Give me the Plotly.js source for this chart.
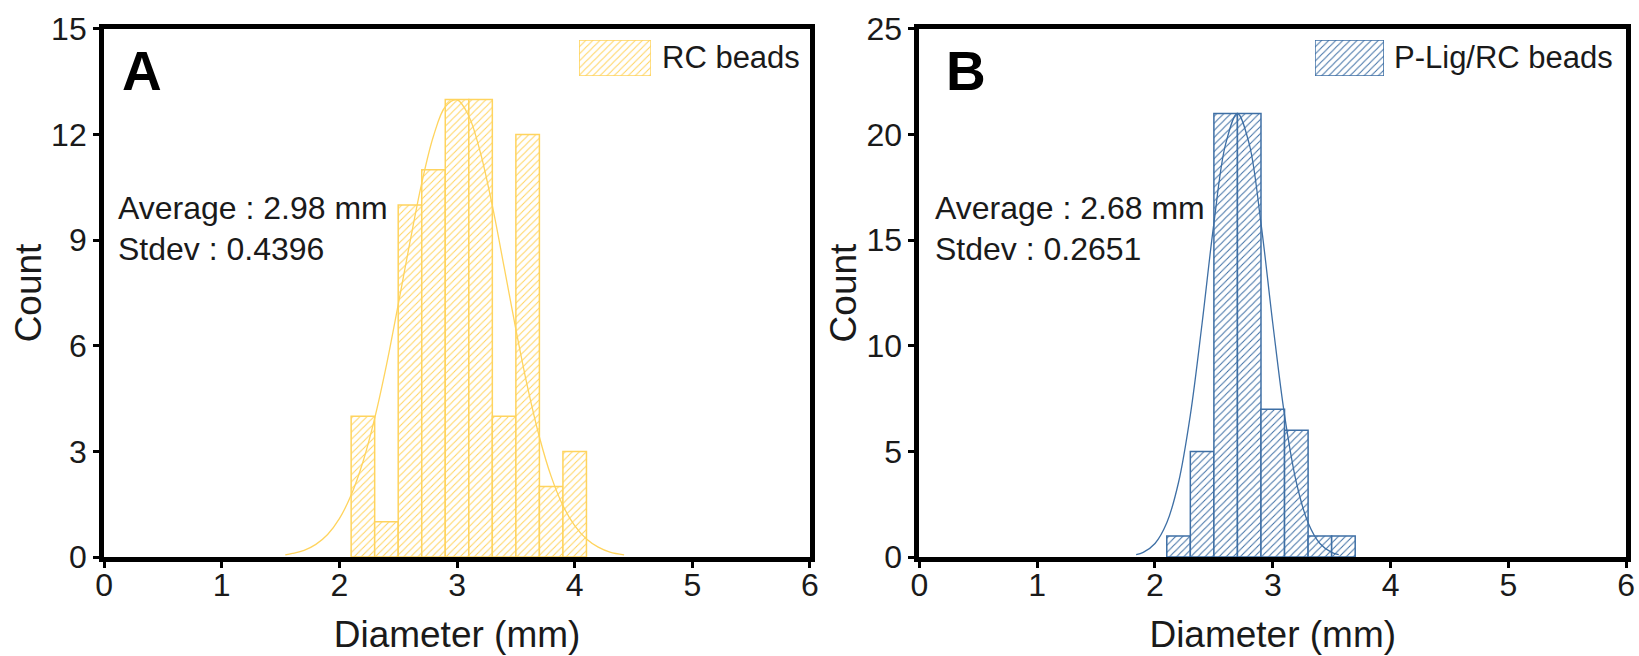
<!DOCTYPE html>
<html>
<head>
<meta charset="utf-8">
<script src="https://cdn.plot.ly/plotly-3.0.1.min.js"></script>
<style>html,body{margin:0;padding:0;background:#fff;}#chart{width:1639px;height:656px;}</style>
</head>
<body>
<div id="chart"></div>
<script>
// ---- data ----
const binCentersA = [2.2, 2.4, 2.6, 2.8, 3.0, 3.2, 3.4, 3.6, 3.8, 4.0];
const countsA     = [4, 1, 10, 11, 13, 13, 4, 12, 2, 3];
const binCentersB = [2.2, 2.4, 2.6, 2.8, 3.0, 3.2, 3.4, 3.6];
const countsB     = [1, 5, 21, 21, 7, 6, 1, 1];
const binWidth = 0.2;

// fitted normal curves
const fitXA = [1.54,1.6,1.7,1.8,1.9,2.0,2.1,2.2,2.3,2.4,2.5,2.6,2.7,2.8,2.9,3.0,3.1,3.2,3.3,3.4,3.5,3.6,3.7,3.8,3.9,4.0,4.1,4.2,4.3,4.42];
const fitYA = [0.06,0.10,0.19,0.36,0.64,1.09,1.76,2.70,3.94,5.45,7.17,8.95,10.62,11.96,12.79,12.99,12.53,11.47,9.98,8.24,6.47,4.82,3.41,2.29,1.46,0.89,0.51,0.28,0.14,0.06];
const fitXB = [1.84,1.9,2.0,2.1,2.2,2.3,2.4,2.5,2.6,2.7,2.8,2.9,3.0,3.1,3.2,3.3,3.4,3.5,3.56];
const fitYB = [0.11,0.22,0.64,1.62,3.54,6.72,11.07,15.80,19.56,21.0,19.56,15.80,11.07,6.72,3.54,1.62,0.64,0.22,0.11];

const seriesNames = ['RC beads', 'P-Lig/RC beads'];
const statsA = ['Average : 2.98 mm', 'Stdev : 0.4396'];
const statsB = ['Average : 2.68 mm', 'Stdev : 0.2651'];
const panelLabels = ['A', 'B'];
const swatchValue = [1];

// ---- styles ----
const yellow = '#FFD45E';
const blue = '#3E6FA5';
const txt = '#1a1a1a';
const FONT = 'Liberation Sans, Arial, sans-serif';

function histTrace(x, y, color, xa, ya) {
  return {
    type: 'bar', x: x, y: y, width: binWidth, xaxis: xa, yaxis: ya,
    marker: {
      color: color,
      line: {color: color, width: 1.5},
      pattern: {shape: '/', fgcolor: color, bgcolor: '#ffffff', size: 5, solidity: 0.2, fillmode: 'replace'}
    },
    showlegend: false, hoverinfo: 'x+y'
  };
}
function fitTrace(x, y, color, xa, ya) {
  return {type: 'scatter', mode: 'lines', x: x, y: y, xaxis: xa, yaxis: ya,
    line: {color: color, width: 1.3, shape: 'spline'}, showlegend: false};
}
function swatchTrace(color, xa, ya) {
  return {
    type: 'bar', x: [0], y: swatchValue, width: 1, xaxis: xa, yaxis: ya,
    marker: {color: color, line: {color: color, width: 1.5},
      pattern: {shape: '/', fgcolor: color, bgcolor: '#ffffff', size: 5, solidity: 0.2, fillmode: 'replace'}},
    showlegend: false, hoverinfo: 'skip'
  };
}

const data = [
  histTrace(binCentersA, countsA, yellow, 'x', 'y'),
  fitTrace(fitXA, fitYA, yellow, 'x', 'y'),
  histTrace(binCentersB, countsB, blue, 'x2', 'y2'),
  fitTrace(fitXB, fitYB, blue, 'x2', 'y2'),
  swatchTrace(yellow, 'x3', 'y3'),
  swatchTrace(blue, 'x4', 'y4')
];

const yDom = [0.1509, 0.9558];
function xAxis(domain, anchor) {
  return {
    domain: domain, anchor: anchor, range: [0, 6], dtick: 1, tick0: 0,
    showline: true, linecolor: '#000', linewidth: 5, mirror: true,
    ticks: 'outside', ticklen: 6, tickwidth: 3, tickcolor: '#000',
    ticklabelstandoff: -10,
    showgrid: false, zeroline: false,
    tickfont: {family: FONT, size: 32, color: txt},
    title: {text: 'Diameter (mm)', font: {family: FONT, size: 37, color: txt}, standoff: 20},
    fixedrange: true
  };
}
function yAxis(range, dtick, anchor) {
  return {
    domain: yDom, anchor: anchor, range: range, dtick: dtick, tick0: 0,
    showline: true, linecolor: '#000', linewidth: 5, mirror: true,
    ticks: 'outside', ticklen: 6, tickwidth: 3, tickcolor: '#000',
    showgrid: false, zeroline: false,
    tickfont: {family: FONT, size: 32, color: txt},
    title: {text: 'Count', font: {family: FONT, size: 37, color: txt}, standoff: 0},
    fixedrange: true
  };
}
function hidden(domain, range, anchor) {
  return {domain: domain, range: range, visible: false, anchor: anchor, fixedrange: true};
}

const swY = [0.8841, 0.9390];
const layout = {
  width: 1639, height: 656,
  margin: {l: 0, r: 0, t: 0, b: 0},
  paper_bgcolor: '#ffffff', plot_bgcolor: '#ffffff',
  bargap: 0, showlegend: false,
  font: {family: FONT, color: txt},
  xaxis: xAxis([0.0635, 0.4942], 'y'),
  yaxis: yAxis([0, 15], 3, 'x'),
  xaxis2: xAxis([0.5610, 0.9921], 'y2'),
  yaxis2: yAxis([0, 25], 5, 'x2'),
  xaxis3: hidden([0.3533, 0.3972], [-0.5, 0.5], 'y3'),
  yaxis3: hidden(swY, [0, 1], 'x3'),
  xaxis4: hidden([0.8023, 0.8444], [-0.5, 0.5], 'y4'),
  yaxis4: hidden(swY, [0, 1], 'x4'),
  annotations: [
    {xref: 'paper', yref: 'paper', x: 0.0730, y: 0.892, xanchor: 'left', yanchor: 'middle', showarrow: false,
     text: '<b>' + panelLabels[0] + '</b>', font: {family: FONT, size: 55, color: '#000'}},
    {xref: 'paper', yref: 'paper', x: 0.5760, y: 0.892, xanchor: 'left', yanchor: 'middle', showarrow: false,
     text: '<b>' + panelLabels[1] + '</b>', font: {family: FONT, size: 55, color: '#000'}},
    {xref: 'paper', yref: 'paper', x: 0.0705, y: 0.683, xanchor: 'left', yanchor: 'middle', showarrow: false,
     text: statsA[0], font: {family: FONT, size: 32, color: txt}},
    {xref: 'paper', yref: 'paper', x: 0.0705, y: 0.620, xanchor: 'left', yanchor: 'middle', showarrow: false,
     text: statsA[1], font: {family: FONT, size: 32, color: txt}},
    {xref: 'paper', yref: 'paper', x: 0.5690, y: 0.683, xanchor: 'left', yanchor: 'middle', showarrow: false,
     text: statsB[0], font: {family: FONT, size: 32, color: txt}},
    {xref: 'paper', yref: 'paper', x: 0.5690, y: 0.620, xanchor: 'left', yanchor: 'middle', showarrow: false,
     text: statsB[1], font: {family: FONT, size: 32, color: txt}},
    {xref: 'paper', yref: 'paper', x: 0.4027, y: 0.9116, xanchor: 'left', yanchor: 'middle', showarrow: false,
     text: seriesNames[0], font: {family: FONT, size: 31, color: txt}},
    {xref: 'paper', yref: 'paper', x: 0.8492, y: 0.9116, xanchor: 'left', yanchor: 'middle', showarrow: false,
     text: seriesNames[1], font: {family: FONT, size: 31, color: txt}}
  ]
};

Plotly.newPlot('chart', data, layout, {staticPlot: true, displayModeBar: false});
</script>
</body>
</html>
